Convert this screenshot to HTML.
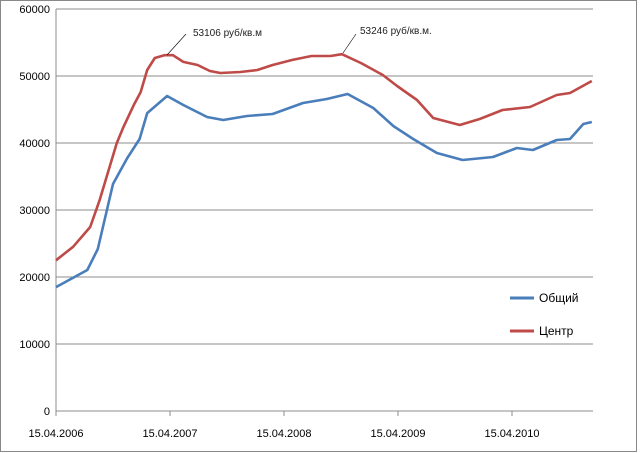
<!DOCTYPE html>
<html><head><meta charset="utf-8"><style>
body{margin:0;background:#fff;}
svg{display:block;font-family:"Liberation Sans",Arial,sans-serif;}
</style></head><body>
<svg id="chart" width="640" height="453" viewBox="0 0 640 453">
<rect x="0.5" y="0.5" width="636" height="451" fill="#fff" stroke="#888"/>
<g id="grid"></g><g id="axes"></g><g id="series"></g>
<g>
<line x1="186" y1="34" x2="167" y2="55" stroke="#000" stroke-width="0.6"/>
<text x="193" y="36" font-size="10" fill="#222">53106 руб/кв.м</text></g>
<g>
<line x1="356" y1="34" x2="343" y2="53" stroke="#000" stroke-width="0.6"/>
<text x="360" y="34" font-size="10" fill="#222">53246 руб/кв.м.</text></g>
<g>
<g><line x1="510" y1="298" x2="534" y2="298" stroke="#4a7ebb" stroke-width="3"/><text x="539" y="302" font-size="12" fill="#000">Общий</text></g>
<g><line x1="510" y1="331" x2="534" y2="331" stroke="#be4b48" stroke-width="3"/><text x="539" y="335" font-size="12" fill="#000">Центр</text></g>
</g>
</svg>
<script>
const yTicks=[0,10000,20000,30000,40000,50000,60000];
const xTickLabels=["15.04.2006","15.04.2007","15.04.2008","15.04.2009","15.04.2010"];
const xTickMonths=[0,12,24,36,48];
const redMonths=[0,1.8,3.6,4.6,6.4,7.1,8.2,8.9,9.6,10.4,11.4,12.3,13.4,14.9,16.2,17.3,19.4,21.2,22.8,24.9,26.9,28.9,30.1,32.1,34.4,35.9,38,39.7,42.5,44.6,47,49.9,52.7,54.1,56.4];
const redValues=[22500,24500,27460,31500,40000,42400,45700,47560,50900,52690,53100,53100,52100,51640,50750,50450,50600,50900,51640,52400,52980,52980,53250,51940,50150,48510,46420,43730,42690,43580,44920,45370,47160,47460,49250];
const blueMonths=[0,3.3,4.4,6,7.5,8.8,9.6,11.7,13.4,15.9,17.6,20.1,22.8,26,28.5,30.7,33.4,35.5,37.6,40.1,42.8,46,48.5,50.2,52.7,54.1,55.5,56.4];
const blueValues=[18500,21040,24180,33880,37760,40600,44470,47010,45670,43880,43430,44030,44330,45970,46570,47310,45220,42540,40600,38510,37460,37910,39250,38960,40450,40600,42840,43130];
const NS="http://www.w3.org/2000/svg";
const X0=56,X1=593,Y0=411,Y1=9;
function xs(m){return X0+m*9.5;}
function ys(v){return Y0-(v/60000)*(Y0-Y1);}
function mk(t,a,p){const e=document.createElementNS(NS,t);for(const k in a)e.setAttribute(k,a[k]);p.appendChild(e);return e;}
const grid=document.getElementById('grid'),axes=document.getElementById('axes'),ser=document.getElementById('series');
yTicks.forEach(v=>{
 if(v>0){const g=mk('line',{x1:X0,x2:X1,y1:ys(v),y2:ys(v),stroke:'#8c8c8c','stroke-width':1},grid);
 
 }
 const t=mk('text',{x:50,y:ys(v)+4,'text-anchor':'end','font-size':11,fill:'#000'},axes);t.textContent=v;
 
 
});
const ax=mk('line',{x1:X0,x2:X1,y1:Y0,y2:Y0,stroke:'#8c8c8c'},axes);


const ay=mk('line',{x1:X0,x2:X0,y1:Y1,y2:Y0,stroke:'#8c8c8c'},axes);


xTickMonths.forEach((m,i)=>{
 mk('line',{x1:xs(m),x2:xs(m),y1:Y0,y2:Y0+5,stroke:'#8c8c8c'},axes);
 const t=mk('text',{x:xs(m),y:437,'text-anchor':'middle','font-size':11,fill:'#000'},axes);t.textContent=xTickLabels[i];
 
 
});
function line(ms,vs,c,name){
 const d=ms.map((m,i)=>(i?'L':'M')+xs(m).toFixed(1)+','+ys(vs[i]).toFixed(1)).join('');
 const p=mk('path',{d:d,fill:'none',stroke:c,'stroke-width':2.6,'stroke-linejoin':'round'},ser);
 
 
}
line(blueMonths,blueValues,'#4a7ebb','series-obshchiy');
line(redMonths,redValues,'#be4b48','series-tsentr');
</script>
</body></html>
